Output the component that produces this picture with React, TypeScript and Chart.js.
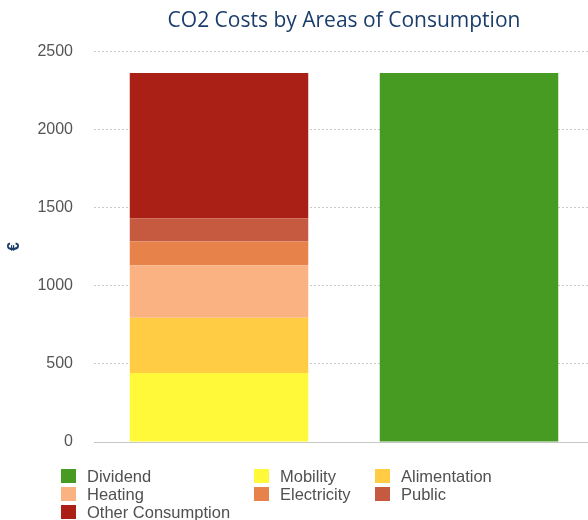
import React, { useEffect, useRef } from "react";
import { Chart, registerables } from "chart.js";

Chart.register(...registerables);

const categories = ["Costs", "Dividend"];
const seriesNames = ["Dividend", "Mobility", "Alimentation", "Heating", "Electricity", "Public", "Other Consumption"];
const dividendValues = [null, 2360];
const mobilityValues = [442, null];
const alimentationValues = [353, null];
const heatingValues = [335, null];
const electricityValues = [153, null];
const publicValues = [149, null];
const otherValues = [928, null];
const seriesColors = ["#479B23", "#FFF93A", "#FFCC44", "#FBB283", "#E7824B", "#C65A40", "#AA1F16"];
const yTicks = [0, 500, 1000, 1500, 2000, 2500];

const legendPlugin = {
  id: "gridLegend",
  afterDraw(chart: any) {
    const ctx = chart.ctx;
    const cols = [61, 254, 375];
    const top = chart.chartArea.bottom + 34;
    const rowH = 18;
    ctx.save();
    ctx.font = "16.5px 'Liberation Sans', Arial, sans-serif";
    ctx.textBaseline = "middle";
    chart.data.datasets.forEach((ds: any, i: number) => {
      const col = i % 3;
      const row = Math.floor(i / 3);
      const x = cols[col];
      const y = top + row * rowH;
      ctx.fillStyle = ds.backgroundColor;
      ctx.fillRect(x, y - 7, 15, 14);
      ctx.fillStyle = "#505050";
      ctx.textAlign = "left";
      ctx.fillText(ds.label, x + 26, y + 1);
    });
    ctx.restore();
  },
};

export default function App() {
  const ref = useRef<HTMLCanvasElement>(null);
  useEffect(() => {
    const seriesData = [dividendValues, mobilityValues, alimentationValues, heatingValues, electricityValues, publicValues, otherValues];
    const chart = new Chart(ref.current!, {
      type: "bar",
      data: {
        labels: categories,
        datasets: seriesNames.map((name, i) => ({
          label: name,
          data: seriesData[i] as any,
          backgroundColor: seriesColors[i],
          borderWidth: 0,
          categoryPercentage: 0.714,
          barPercentage: 1,
        })),
      },
      options: {
        animation: false,
        responsive: false,
        maintainAspectRatio: false,
        layout: { padding: { left: 0, right: 0, top: 0, bottom: 78 } },
        plugins: {
          legend: { display: false },
          tooltip: { enabled: false },
          title: {
            display: true,
            text: "CO2 Costs by Areas of Consumption",
            fullSize: false,
            color: "#1B3D6B",
            font: { family: "'Open Sans', sans-serif", size: 21, weight: "normal" },
            padding: { top: 8, bottom: 18 },
          },
        },
        scales: {
          x: {
            stacked: true,
            grid: { display: false, drawTicks: false },
            border: { display: true, color: "#C8C8C8", width: 1 },
            ticks: { display: false },
          },
          y: {
            stacked: true,
            min: 0,
            max: 2500,
            afterFit(scale: any) {
              scale.width = 94;
            },
            afterBuildTicks(scale: any) {
              scale.ticks = yTicks.map((v) => ({ value: v }));
            },
            grid: { color: "#CCCCCC", drawTicks: false, lineWidth: 1 },
            border: { display: false, dash: [2, 2] },
            ticks: {
              padding: 21,
              color: "#555555",
              font: { family: "'Liberation Sans', Arial, sans-serif", size: 16 },
              callback: (v: any) => String(v),
            },
            title: {
              display: true,
              text: "€",
              color: "#1B3D6B",
              font: { family: "'Liberation Sans', Arial, sans-serif", size: 16, weight: "bold" },
              padding: { top: 5, bottom: 0 },
            },
          },
        },
      },
      plugins: [legendPlugin],
    });
    return () => chart.destroy();
  }, []);
  return (
    <div style={{ position: "absolute", left: 0, top: 0, width: 588, height: 520, overflow: "hidden" }}>
      <canvas ref={ref} width={594} height={520} style={{ width: 594, height: 520, display: "block" }} />
    </div>
  );
}
